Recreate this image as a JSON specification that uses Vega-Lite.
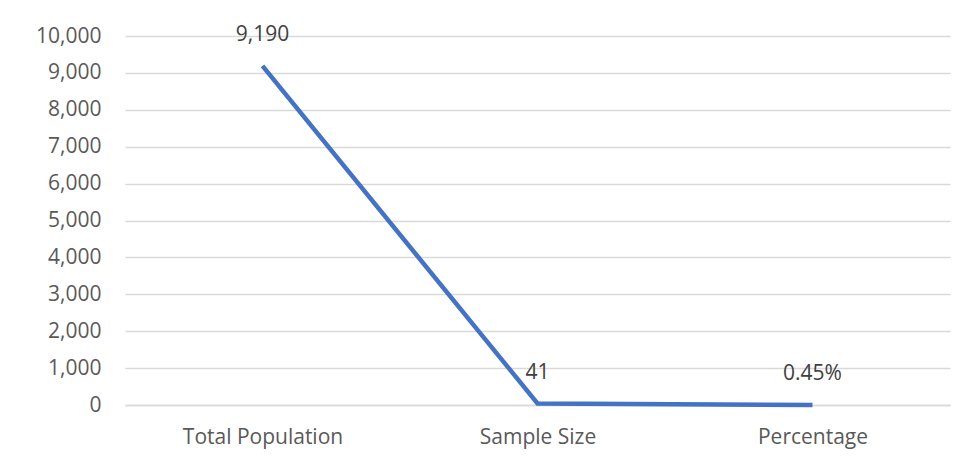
{
  "$schema": "https://vega.github.io/schema/vega-lite/v6.json",
  "autosize": {"type": "none"},
  "width": 825,
  "height": 369,
  "padding": {"left": 125, "top": 36, "right": 9, "bottom": 58},
  "background": "white",
  "config": {
    "view": {"stroke": null},
    "font": "Open Sans",
    "axis": {"labelFont": "Open Sans", "labelFontSize": 21, "labelColor": "#595959"}
  },
  "data": {
    "values": [
      {"category": "Total Population", "value": 9190, "label": "9,190"},
      {"category": "Sample Size", "value": 41, "label": "41"},
      {"category": "Percentage", "value": 0.0045, "label": "0.45%"}
    ]
  },
  "encoding": {
    "x": {
      "field": "category", "type": "ordinal", "sort": null,
      "scale": {"type": "point", "padding": 0.5},
      "axis": {"title": null, "labelAngle": 0, "ticks": false, "domain": true, "domainColor": "#d9d9d9", "domainWidth": 1.5, "labelPadding": 21}
    },
    "y": {
      "field": "value", "type": "quantitative",
      "scale": {"domain": [0, 10000], "nice": false},
      "axis": {"title": null, "values": [0,1000,2000,3000,4000,5000,6000,7000,8000,9000,10000], "format": ",d", "ticks": false, "domain": false, "grid": true, "gridColor": "#d9d9d9", "gridWidth": 1.5, "labelPadding": 24}
    }
  },
  "layer": [
    {"mark": {"type": "line", "color": "#4472C4", "strokeWidth": 4.5, "strokeJoin": "miter"}},
    {"mark": {"type": "text", "dy": -24.5, "baseline": "alphabetic", "align": "center", "fontSize": 21, "font": "Open Sans", "color": "#404040"},
     "encoding": {"text": {"field": "label"}}}
  ]
}
